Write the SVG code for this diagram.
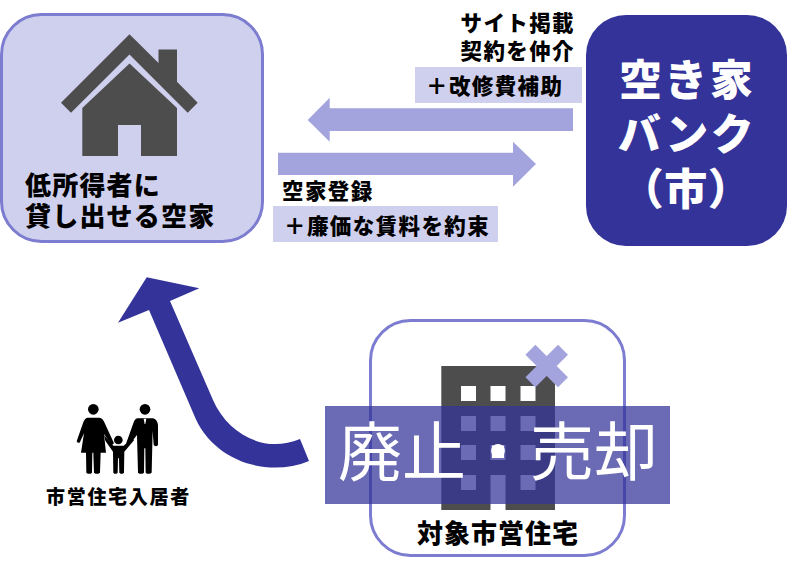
<svg xmlns="http://www.w3.org/2000/svg" width="787" height="564" viewBox="0 0 787 564">
<style>
text{font-family:"Noto Sans CJK JP","Noto Sans",sans-serif;font-weight:900;fill:#000}
.box{fill:#CFCFEE;stroke:#7C7CD0;stroke-width:3}
.dark{fill:#4D4D4D}
.lt{fill:#A3A3DD}
.tag{fill:#CFCFEE}
.m{font-size:21.5px;letter-spacing:1.4px}
.w{fill:#fff;font-size:43px;letter-spacing:2.4px;text-anchor:middle}
.fam{fill:#000}
</style>
<rect width="787" height="564" fill="#fff"/>
<g id="node-house">
<rect class="box" x="1.5" y="14.5" width="261" height="227" rx="40"/>
<path class="dark" d="M129.5,34.3L158.5,63V49.5H177V81.7L197.7,102.7L187.7,112.7L129.5,54.5L71,112.7L61,102.7Z"/>
<path class="dark" d="M129.5,63.5L177,108V156H141V125H118V156H82.3V108Z"/>
<text x="25" y="195" font-size="26" letter-spacing="1.2">低所得者に</text>
<text x="25" y="226" font-size="26" letter-spacing="1.2">貸し出せる空家</text>
</g>
<g id="node-bank">
<rect x="586" y="15" width="201" height="231" rx="40" fill="#333399"/>
<text class="w" x="687" y="96">空き家</text>
<text class="w" x="687" y="150">バンク</text>
<text class="w" x="687" y="205" style="font-feature-settings:'palt'">（市）</text>
</g>
<g id="connectors">
<path class="lt" d="M573,108.3H329.7V97.7L307.7,120L329.7,141.7V131H573Z"/>
<path class="lt" d="M278,152.7H513V141.7L536,164L513,186.7V175H278Z"/>
<path fill="#333399" d="M146.7,277.3L199.3,288.3L170,301L213,400C228,434 264,454 300,439L309,461C268,478 212,462 193.3,413.3L149,310L118,322.7Z"/>
</g>
<g id="label-top">
<text class="m" x="575" y="31" text-anchor="end">サイト掲載</text>
<text class="m" x="575" y="59" text-anchor="end">契約を仲介</text>
<rect class="tag" x="415" y="67" width="167" height="36"/>
<text class="m" x="426" y="94">＋改修費補助</text>
</g>
<g id="label-bottom">
<text class="m" x="282" y="199">空家登録</text>
<rect class="tag" x="273" y="206" width="225" height="36"/>
<text class="m" x="284" y="234">＋廉価な賃料を約束</text>
</g>
<g id="node-family">
<text x="46" y="504" font-size="19" letter-spacing="1.7">市営住宅入居者</text>
<g class="fam" transform="translate(30,270) scale(.3333)">
<circle cx="190" cy="418" r="16"/><circle cx="345" cy="418" r="16"/><circle cx="265" cy="510" r="13"/>
<path d="M172,443H208Q219,445 223,457L252,520L245,526L222,492L228,548H212L210,608Q201,615 192,608L190,548H187L186,608Q178,615 169,608L168,548H153L162,490L149,518Q143,520 140,514L160,457Q164,445 172,443Z"/>
<path d="M322,445H369Q382,448 384,465L384,525Q378,532 371,525L368,482L365,608Q355,615 347,608L346,535H343L342,608Q333,615 324,608L321,495L293,530L287,524L310,460Q314,447 322,445Z"/>
<path d="M222,495L250,527H281L308,505L312,511L283,545L282,608Q275,615 268,608L267,565H264L263,608Q256,615 250,608L249,545L226,512Z"/>
<path fill="#fff" d="M341,446H349L346,462H344Z"/>
</g>
</g>
<g id="node-housing">
<rect x="370.5" y="320.5" width="254" height="235" rx="40" fill="#fff" stroke="#7C7CD0" stroke-width="3"/>
<rect class="dark" x="441.3" y="366" width="113.7" height="144"/>
<g fill="#fff">
<rect x="461" y="386" width="15" height="15"/><rect x="490.5" y="386" width="15" height="15"/><rect x="520.5" y="386" width="15" height="15"/>
<rect x="461" y="416" width="15" height="15"/><rect x="490.5" y="416" width="15" height="15"/><rect x="520.5" y="416" width="15" height="15"/>
<rect x="461" y="445" width="15" height="15"/><rect x="490.5" y="445" width="15" height="15"/><rect x="520.5" y="445" width="15" height="15"/>
<rect x="461" y="475" width="15" height="15"/><rect x="490.5" y="475" width="15" height="35"/><rect x="520.5" y="475" width="15" height="15"/>
</g>
<path stroke="#A3A3DD" stroke-width="14" d="M530.4,349.7L563,382.3M563,349.7L530.4,382.3"/>
<rect x="325" y="406" width="345" height="98" fill="#333399" fill-opacity=".73"/>
<text x="338" y="475" font-size="64" style="font-weight:400;fill:#fff">廃止・売却</text>
<rect x="492" y="445.5" width="12" height="12.5" fill="#fff"/>
<text x="417" y="543" font-size="26" letter-spacing="1">対象市営住宅</text>
</g>
</svg>
